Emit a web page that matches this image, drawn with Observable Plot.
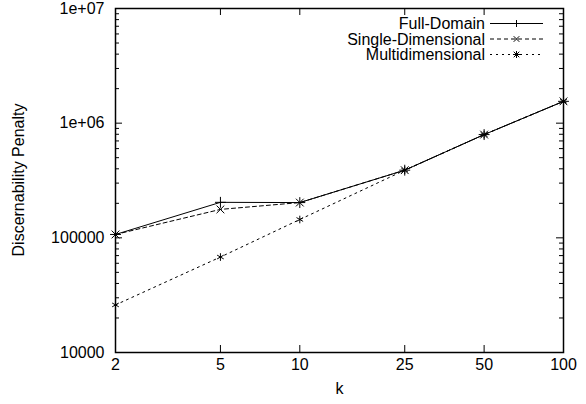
<!DOCTYPE html>
<html>
<head>
<meta charset="utf-8">
<script src="https://cdn.jsdelivr.net/npm/d3@7"></script>
<script src="https://cdn.jsdelivr.net/npm/@observablehq/plot@0.6"></script>
<style>
  html, body { margin: 0; padding: 0; background: #fff; }
  #chart svg { display: block; }
</style>
</head>
<body>
<div id="chart"></div>
<script>
// ---- data ----
const ks = [2, 5, 10, 25, 50, 100];
const fullDomain = [107000, 204000, 203000, 389000, 795000, 1550000];
const singleDimensional = [107000, 177000, 203000, 389000, 795000, 1550000];
const multidimensional = [26000, 68000, 144500, 389000, 795000, 1550000];

const seriesNames = ["Full-Domain", "Single-Dimensional", "Multidimensional"];
const xTicks = [2, 5, 10, 25, 50, 100];
const xTickLabels = ["2", "5", "10", "25", "50", "100"];
const yTicks = [1e4, 1e5, 1e6, 1e7];
const yTickLabels = ["10000", "100000", "1e+06", "1e+07"];
const xLabel = "k";
const yLabel = "Discernability Penalty";

// ---- derived tables ----
const seriesValues = [fullDomain, singleDimensional, multidimensional];
const rows = seriesNames.flatMap((name, s) =>
  ks.map((k, i) => ({series: name, k, value: seriesValues[s][i]})));
const styles = {
  "Full-Domain": {dash: null, symbol: "plus"},
  "Single-Dimensional": {dash: "4,3", symbol: "times"},
  "Multidimensional": {dash: "2,4", symbol: "asterisk"}
};
const yMinor = [];
for (let e = 4; e < 7; e++) for (let m = 2; m <= 9; m++) yMinor.push(m * 10 ** e);
const xInner = xTicks.slice(1, -1);
const yInner = yTicks.slice(1, -1);
const xTickTable = xTicks.map((t, i) => ({t, label: xTickLabels[i]}));
const yTickTable = yTicks.map((t, i) => ({t, label: yTickLabels[i]}));

const W = 586, H = 404;
const mL = 115, mR = 23, mT = 8, mB = 52;
const iw = W - mL - mR, ih = H - mT - mB;
const major = 7, minor = 4;
const font = "'Liberation Sans', Arial, Helvetica, sans-serif";

const marks = [];
// tick marks pointing inward (gnuplot style), mirrored on both sides
marks.push(Plot.ruleY(yInner, {y: d => d, insetRight: iw - major, stroke: "black"}));
marks.push(Plot.ruleY(yInner, {y: d => d, insetLeft: iw - major, stroke: "black"}));
marks.push(Plot.ruleY(yMinor, {y: d => d, insetRight: iw - minor, stroke: "black"}));
marks.push(Plot.ruleY(yMinor, {y: d => d, insetLeft: iw - minor, stroke: "black"}));
marks.push(Plot.ruleX(xInner, {x: d => d, insetTop: ih - major, stroke: "black"}));
marks.push(Plot.ruleX(xInner, {x: d => d, insetBottom: ih - major, stroke: "black"}));

// tick labels
marks.push(Plot.text(xTickTable, {x: "t", text: "label", frameAnchor: "bottom", dy: 17, fontSize: 16, fill: "black"}));
marks.push(Plot.text(yTickTable, {y: "t", text: "label", frameAnchor: "left", dx: -11, textAnchor: "end", fontSize: 16, fill: "black"}));
marks.push(Plot.text([xLabel], {frameAnchor: "bottom", dy: 41, text: d => d, fontSize: 16, fill: "black"}));

// series
for (const name of seriesNames) {
  const data = rows.filter(r => r.series === name);
  const st = styles[name];
  marks.push(Plot.line(data, {x: "k", y: "value", stroke: "black", strokeWidth: 1, strokeDasharray: st.dash}));
  marks.push(Plot.dot(data, {x: "k", y: "value", symbol: () => st.symbol, r: 3.6, stroke: "black", fill: "none", strokeWidth: 1}));
}
marks.push(Plot.frame({stroke: "black", strokeWidth: 1.5}));

const chart = Plot.plot({
  width: W, height: H,
  marginLeft: mL, marginRight: mR, marginTop: mT, marginBottom: mB,
  style: {fontFamily: font, fontSize: "16px", color: "black", background: "white", overflow: "visible"},
  x: {type: "log", domain: [2, 100], axis: null},
  y: {type: "log", domain: [1e4, 1e7], axis: null},
  symbol: {type: "identity"},
  marks
});
document.getElementById("chart").appendChild(chart);

const svg = d3.select(chart);
// y axis title (rotated)
svg.append("text")
  .attr("transform", `translate(18,${mT + ih / 2}) rotate(-90)`)
  .attr("text-anchor", "middle").attr("dy", "0.35em")
  .attr("font-family", font).attr("font-size", 16).attr("fill", "black")
  .text(yLabel);

// legend (top-right, inside the frame, gnuplot style)
const lg = svg.append("g").attr("font-family", font).attr("font-size", 16);
const textRight = 485, lineX1 = 490, lineX2 = 543, rowY0 = 23.5, rowStep = 15.5;
seriesNames.forEach((name, i) => {
  const y = rowY0 + i * rowStep;
  const st = styles[name];
  lg.append("text").attr("x", textRight).attr("y", y).attr("dy", "0.35em")
    .attr("text-anchor", "end").attr("fill", "black").text(name);
  lg.append("line").attr("x1", lineX1).attr("x2", lineX2).attr("y1", y).attr("y2", y)
    .attr("stroke", "black").attr("stroke-width", 1)
    .attr("stroke-dasharray", st.dash);
  const cx = (lineX1 + lineX2) / 2, r = 3.5;
  const p = d3.path();
  if (st.symbol === "plus" || st.symbol === "asterisk") {
    p.moveTo(cx - r, y); p.lineTo(cx + r, y);
    p.moveTo(cx, y - r); p.lineTo(cx, y + r);
  }
  if (st.symbol === "times" || st.symbol === "asterisk") {
    const q = r * 0.8;
    p.moveTo(cx - q, y - q); p.lineTo(cx + q, y + q);
    p.moveTo(cx - q, y + q); p.lineTo(cx + q, y - q);
  }
  lg.append("path").attr("d", p.toString()).attr("stroke", "black").attr("fill", "none").attr("stroke-width", 1);
});
</script>
</body>
</html>
